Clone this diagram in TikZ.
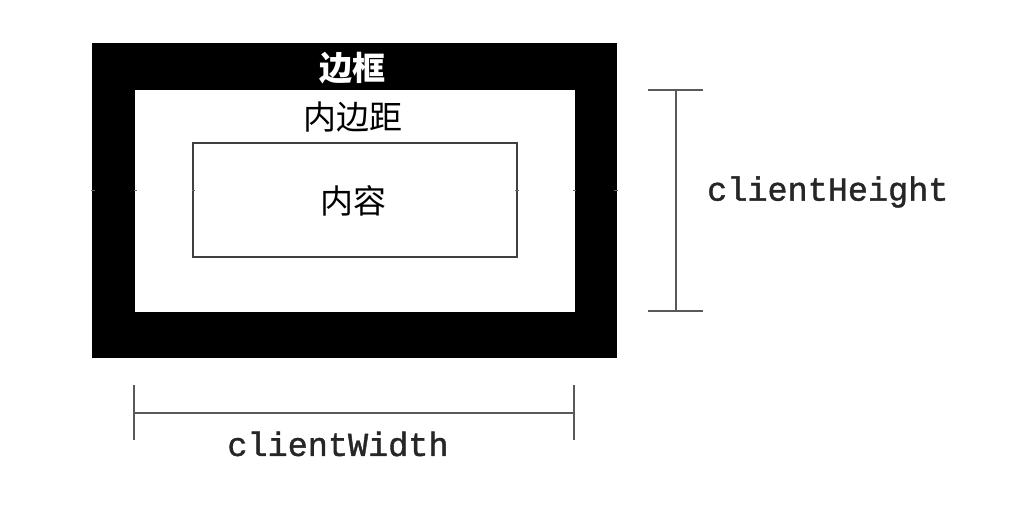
\documentclass[tikz,border=0pt]{standalone}
\usepackage{fontspec}
\newfontfamily\cjk{Noto Sans CJK SC}
\newfontfamily\mono[FakeBold=1.2]{Liberation Mono}
\begin{document}
\begin{tikzpicture}[x=1pt,y=-1pt,
  dimline/.style={draw=black!65,line width=2.2pt},
  cjklabel/.style={font=\cjk\fontsize{33}{35}\selectfont,inner sep=0pt,anchor=center},
  monolabel/.style={font=\mono\fontsize{33.5}{35}\selectfont,inner sep=0pt,text=black!85},
  tick/.style={draw=black!60,line width=0.8pt}]
\useasboundingbox (0,0) rectangle (1029,523);
% border (black) and padding (white)
\fill[black] (92,43) rectangle (617,358);
\fill[white] (135,90) rectangle (575,312);
\draw[black!75,line width=1.6pt] (193,143) rectangle (517,257);
\node[cjklabel,text=white] (border) at (352,68) {\bfseries 边框};
\node[cjklabel] (padding) at (353,117) {内边距};
\node[cjklabel] (content) at (353,201) {内容};
% faint midpoint ticks
\draw[tick] (91,190) -- (95,190);
\draw[tick] (614,190) -- (618,190);
\draw[tick] (134,190) -- (137,190);
\draw[tick] (573,190) -- (576,190);
\draw[tick] (192,190) -- (195,190);
\draw[tick] (515,190) -- (519,190);
% clientHeight
\coordinate (ht) at (676,90);
\coordinate (hb) at (676,311);
\draw[dimline] (648,90) -- (703,90);
\draw[dimline] (648,311) -- (703,311);
\draw[dimline] (ht) -- (hb);
\node[monolabel,anchor=west] (ch) at (707,192) {clientHeight};
% clientWidth
\coordinate (wl) at (134,413);
\coordinate (wr) at (574,413);
\draw[dimline] (134,385) -- (134,440);
\draw[dimline] (574,385) -- (574,440);
\draw[dimline] (wl) -- (wr);
\node[monolabel] (cw) at (338,444) {clientWidth};
\end{tikzpicture}
\end{document}
